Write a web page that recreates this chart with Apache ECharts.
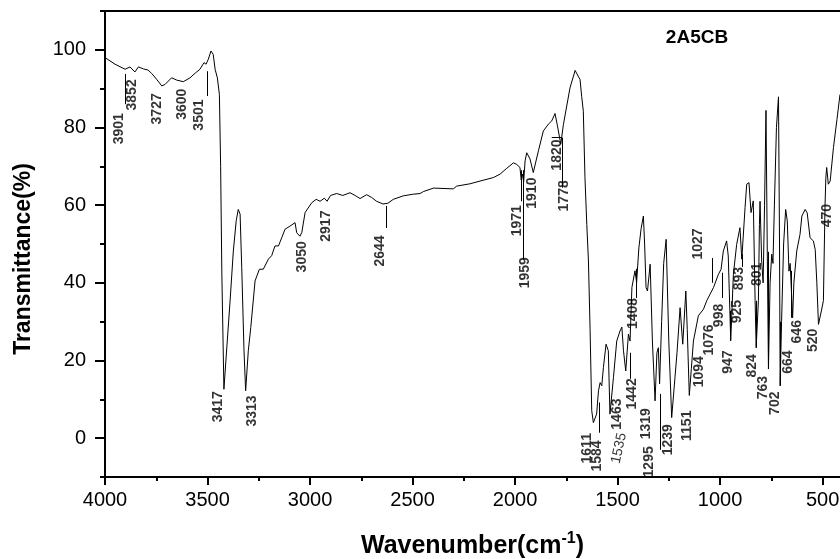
<!DOCTYPE html>
<html>
<head>
<meta charset="utf-8">
<script src="https://cdn.jsdelivr.net/npm/echarts@6/dist/echarts.min.js"></script>
<style>html,body{margin:0;padding:0;background:#fff}#c{width:840px;height:559px}</style>
</head>
<body>
<div id="c"></div>
<script>
// spectrum
const wavenumber = [4000,3951,3902,3878,3854,3837,3813,3790,3772,3748,3723,3707,3675,3650,3618,3585,3560,3537,3517,3507,3496,3483,3472,3463,3452,3442,3436,3430,3420,3405,3390,3374,3360,3350,3341,3333,3322,3314,3301,3289,3268,3247,3228,3203,3187,3171,3154,3138,3122,3098,3073,3065,3049,3040,3024,2992,2970,2951,2930,2917,2900,2870,2840,2805,2780,2756,2724,2700,2675,2644,2620,2594,2545,2500,2463,2447,2398,2301,2285,2220,2171,2106,2073,2040,2008,1992,1976,1970,1964,1958,1951,1943,1927,1911,1886,1862,1837,1821,1805,1793,1777,1764,1732,1707,1700,1690,1683,1675,1667,1659,1650,1642,1634,1626,1618,1602,1593,1585,1577,1569,1556,1545,1537,1528,1520,1504,1488,1479,1471,1460,1447,1439,1430,1415,1407,1396,1385,1374,1368,1361,1354,1341,1330,1317,1308,1301,1295,1285,1275,1263,1250,1236,1220,1210,1195,1182,1167,1160,1150,1140,1130,1106,1098,1081,1065,1032,1008,995,984,968,960,948,935,919,903,894,878,870,859,849,838,829,824,813,808,805,797,790,783,776,770,764,756,748,742,735,725,715,710,707,700,690,680,672,664,658,646,640,626,610,601,585,575,569,561,545,536,528,520,505,496,488,484,480,472,468,463,447,430,415];
const transmittance = [98.0,96.3,95.0,95.6,94.3,95.6,95.1,94.8,93.9,92.4,90.7,91.1,92.8,92.2,91.8,92.8,94.0,95.0,96.7,96.3,97.6,99.7,98.8,95.0,92.8,88.5,70.0,42.0,12.6,24.0,35.3,48.2,56.0,58.9,57.7,43.9,22.5,12.2,22.5,28.5,40.5,43.5,43.5,46.1,47.0,49.5,49.5,51.6,53.8,54.6,55.5,52.9,52.0,53.0,58.1,60.6,61.5,61.0,61.8,61.0,62.5,63.0,62.5,63.2,62.5,61.7,62.7,62.0,61.0,60.3,60.5,61.5,62.4,62.8,63.0,63.5,64.4,64.2,64.9,65.5,66.2,67.1,68.0,69.5,70.9,70.5,69.7,66.5,68.0,66.0,71.4,73.5,71.9,68.4,74.0,79.1,80.9,81.7,83.6,80.4,75.7,80.8,90.2,94.7,94.0,93.0,92.4,88.0,84.2,67.1,55.0,45.6,28.0,7.1,4.0,6.2,12.2,14.3,13.5,18.2,24.2,22.5,6.2,5.7,15.6,25.0,27.6,28.6,22.5,17.3,26.8,25.0,38.8,43.1,40.1,49.0,54.0,57.2,50.0,38.8,37.9,44.8,25.0,9.6,22.0,23.3,14.0,30.0,45.0,51.2,25.0,5.3,15.6,22.0,33.6,24.2,37.9,28.0,11.0,18.0,25.0,31.5,31.0,33.2,35.4,38.8,42.2,43.5,48.2,50.8,46.9,25.1,42.2,49.9,54.2,46.1,59.4,65.4,65.8,58.1,61.1,35.4,23.3,35.4,55.0,61.0,45.6,40.0,60.0,84.4,50.0,17.8,40.0,47.4,45.0,60.0,80.0,87.9,50.0,13.5,30.0,50.0,58.9,55.9,43.0,45.0,31.0,40.0,48.2,52.5,57.2,58.9,58.0,58.5,51.6,50.8,48.6,40.0,29.3,33.0,35.4,60.0,67.1,69.7,65.4,65.4,66.2,74.8,82.0,88.5];

// peak annotations (text and anchor in data coords)
const peakText = ['3901','3852','3727','3600','3501','3417','3313','3050','2917','2644','1971','1959','1910','1820','1778','1611','1584','1535','1463','1442','1408','1319','1295','1239','1151','1094','1076','998','1027','947','925','893','801','824','763','702','664','646','520','470'];
const peakW = [3932,3866,3748,3626,3541,3449,3284,3040,2919,2659,1992,1951,1919,1797,1761,1646,1598,1493,1504,1431,1423,1361,1346,1254,1159,1102,1054,1005,1107,961,915,907,817,845,790,732,668,626,545,476];
const peakT = [79.7,88.4,84.8,86.0,83.2,8.1,7.0,46.7,54.6,48.2,56.0,42.6,63.1,72.9,62.4,-2.6,-4.6,-2.6,6.2,11.4,32.1,3.7,-6.1,-0.4,3.2,17.1,25.3,31.6,50.0,19.6,32.6,41.1,42.2,18.6,13.0,9.0,19.6,27.4,25.2,57.3];

// annotation leader lines [wavenumber, T] from -> to
const leaderFrom = [[3902,93.8],[3501,94.5],[2630,59.8],[1962,69],[1970,69],[1772,77.4],[1821,77.4],[1589,9.2],[1439,22],[1407,43.6],[1293,11.4],[1036,46.4],[987,42.6],[948,32.8],[894,47.4],[824,35.4],[764,48],[707,30],[654,43.1]];
const leaderTo   = [[3902,86.0],[3501,88.1],[2630,54.1],[1962,46],[1970,61],[1772,64.5],[1772,77.4],[1589,1.4],[1439,15.3],[1407,36.1],[1293,-3],[1036,40],[987,36.1],[948,25.1],[894,44.1],[824,23.3],[764,18],[707,13.5],[654,31]];

const xMajor = [4000,3500,3000,2500,2000,1500,1000,500];
const xMinor = [3750,3250,2750,2250,1750,1250,750];
const yMajor = [0,20,40,60,80,100];
const yMinor = [-10,10,30,50,70,90,110];

const FONT = "'Liberation Sans', Arial, sans-serif";
const chart = echarts.init(document.getElementById('c'), null, {renderer:'canvas'});

const spectrum = wavenumber.map((w,i)=>[w, transmittance[i]]);
const labels = peakText.map((t,i)=>{
  const item = {name:t, value:[peakW[i], peakT[i]]};
  if (t === '1535') item.label = {rotate: 78, fontWeight: 'normal'};
  return item;
});
const leaders = leaderFrom.map((f,i)=>[{coord:f},{coord:leaderTo[i]}]);

const xBase = {type:'value', min:415, max:4000, inverse:true, gridIndex:0, splitLine:{show:false}};
const yBase = {type:'value', min:-10, max:110, gridIndex:0, splitLine:{show:false}};

chart.setOption({
  animation:false,
  backgroundColor:'#fff',
  grid:{left:105, right:0, top:11, bottom:82, outerBoundsMode:'none', containLabel:false},
  xAxis:[
    Object.assign({}, xBase, {
      position:'bottom',
      name:'Wavenumber(cm{sup|-1})',
      nameLocation:'middle', nameGap:54,
      nameTextStyle:{fontFamily:FONT, fontWeight:'bold', fontSize:25, color:'#000',
        rich:{sup:{fontFamily:FONT, fontWeight:'bold', fontSize:16, color:'#000', verticalAlign:'bottom', padding:[0,0,14,0]}}},
      axisLine:{show:true, onZero:false, lineStyle:{color:'#000', width:2}},
      axisTick:{show:true, length:8, customValues:xMajor, lineStyle:{color:'#000', width:2}},
      axisLabel:{show:true, customValues:xMajor, formatter:v=>String(v), fontFamily:FONT, fontSize:20, color:'#000', margin:13}
    }),
    Object.assign({}, xBase, {
      position:'bottom',
      axisLine:{show:false, onZero:false},
      axisTick:{show:true, length:4, customValues:xMinor, lineStyle:{color:'#000', width:2}},
      axisLabel:{show:false}
    }),
    Object.assign({}, xBase, {
      position:'top',
      axisLine:{show:true, onZero:false, lineStyle:{color:'#000', width:2}},
      axisTick:{show:false}, axisLabel:{show:false}
    })
  ],
  yAxis:[
    Object.assign({}, yBase, {
      position:'left',
      name:'Transmittance(%)', nameLocation:'middle', nameGap:70, nameRotate:90,
      nameTextStyle:{fontFamily:FONT, fontWeight:'bold', fontSize:23, color:'#000', padding:[0,30,0,0]},
      axisLine:{show:true, onZero:false, lineStyle:{color:'#000', width:2}},
      axisTick:{show:true, length:10, customValues:yMajor, lineStyle:{color:'#000', width:2}},
      axisLabel:{show:true, customValues:yMajor, formatter:v=>String(v), fontFamily:FONT, fontSize:20, color:'#000', margin:19}
    }),
    Object.assign({}, yBase, {
      position:'left',
      axisLine:{show:false, onZero:false},
      axisTick:{show:true, length:5, customValues:yMinor, lineStyle:{color:'#000', width:2}},
      axisLabel:{show:false}
    })
  ],
  graphic:[{
    type:'text', x:697, y:38,
    style:{text:'2A5CB', font:"bold 19px 'Liberation Sans', Arial, sans-serif", fill:'#000', textAlign:'center', textVerticalAlign:'middle'}
  }],
  series:[
    {
      type:'line', xAxisIndex:0, yAxisIndex:0, data:spectrum,
      showSymbol:false, symbol:'none', clip:true,
      lineStyle:{color:'#000', width:1}, silent:true,
      markLine:{
        silent:true, symbol:['none','none'], animation:false,
        label:{show:false}, lineStyle:{color:'#000', width:1, type:'solid'},
        emphasis:{disabled:true},
        data:leaders
      }
    },
    {
      type:'scatter', xAxisIndex:0, yAxisIndex:0, data:labels,
      symbolSize:0, silent:true,
      label:{show:true, position:'inside', formatter:'{b}', rotate:90,
        fontFamily:FONT, fontWeight:'bold', fontSize:14, color:'#000'}
    }
  ]
});
</script>
</body>
</html>
